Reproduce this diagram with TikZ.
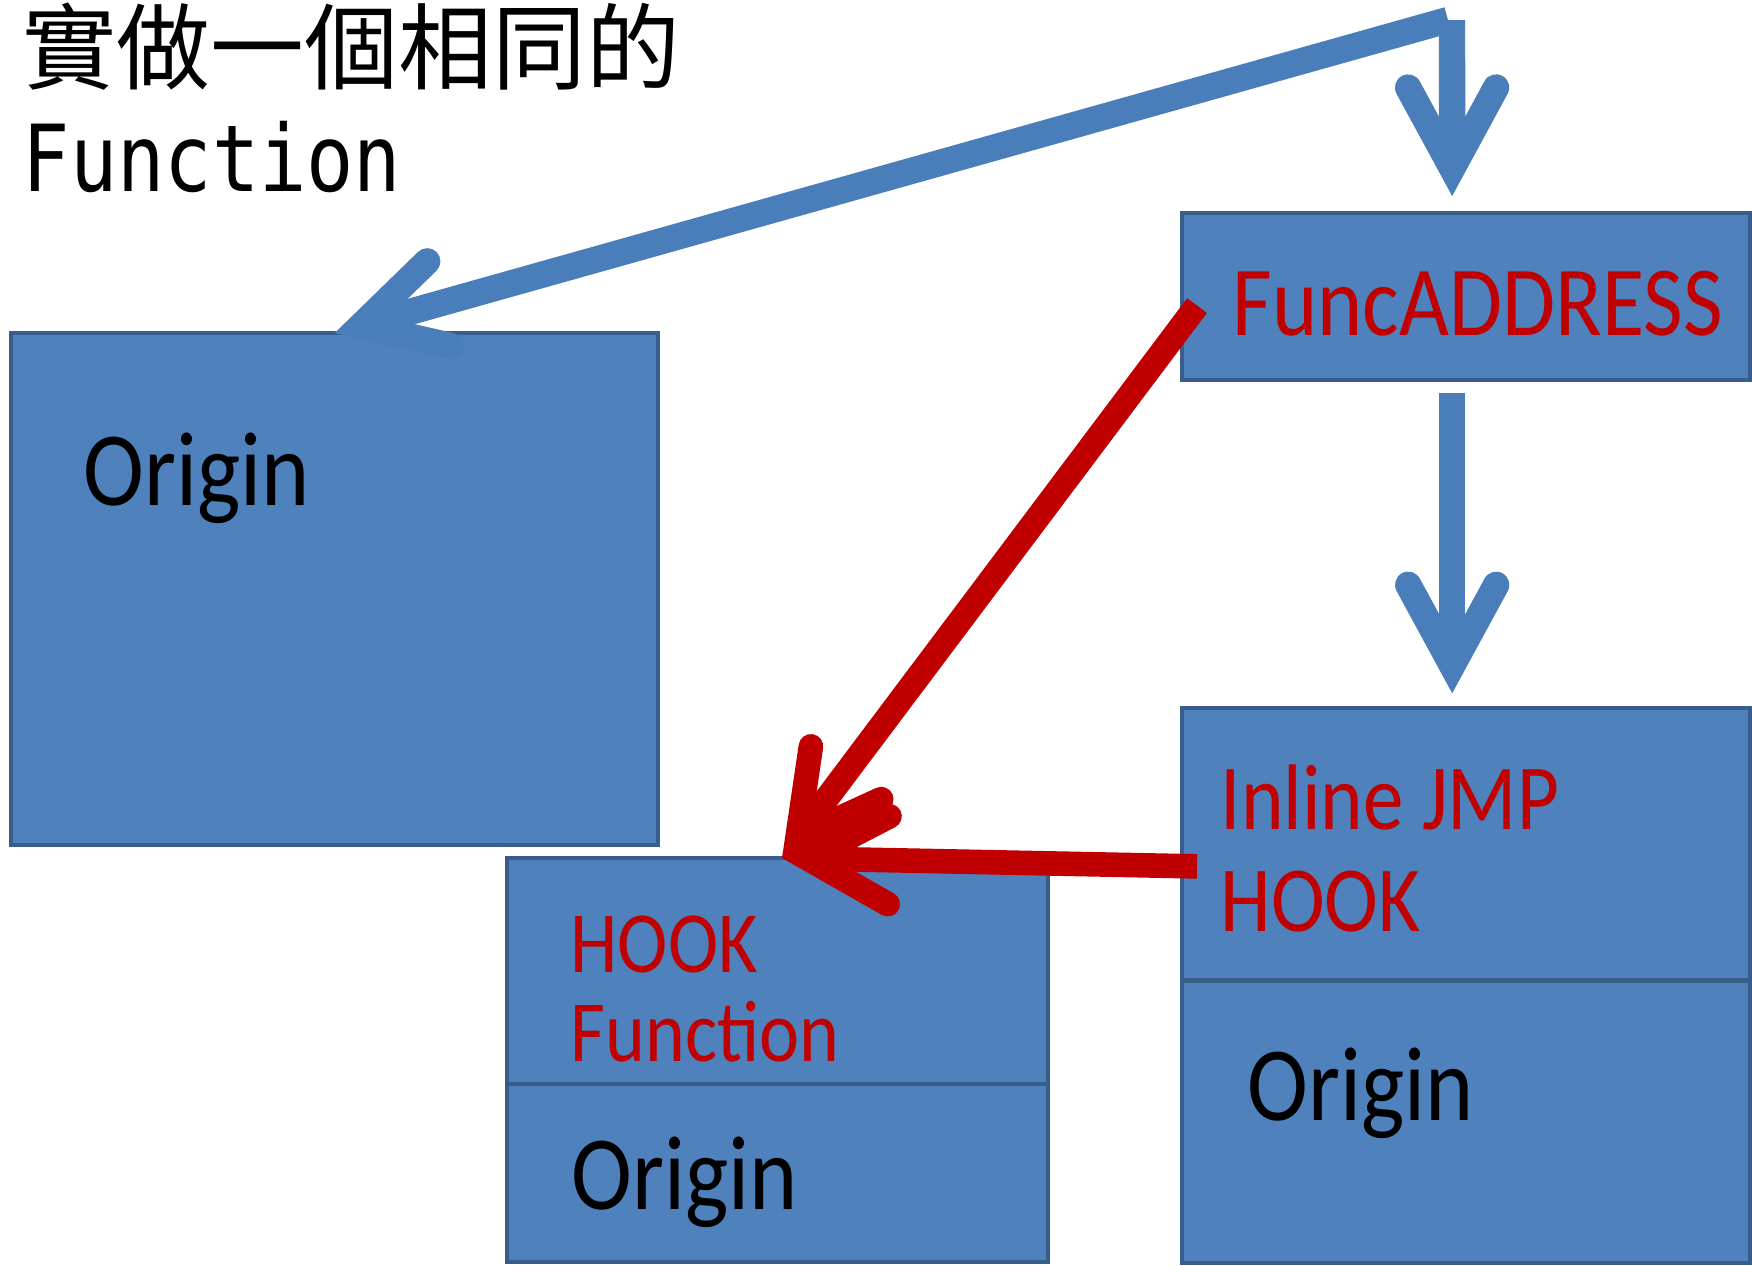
\documentclass[tikz,border=0pt]{standalone}
\usepackage{fontspec}
\newfontfamily\boxfont[FakeStretch=0.87]{Carlito}
\newfontfamily\cjkfont{Noto Sans CJK TC}
\newfontfamily\titlemono[FakeStretch=0.85]{DejaVu Sans Mono}
\definecolor{boxblue}{HTML}{4F81BD}
\definecolor{boxedge}{HTML}{385D8A}
\definecolor{linkblue}{HTML}{4A7EBB}
\definecolor{hookred}{HTML}{C00000}
\usetikzlibrary{
  arrows.meta,
  positioning
}
\tikzset{
  membox/.style={draw=boxedge, fill=boxblue, line width=1.2pt,
    inner sep=0pt, outer sep=0pt},
  boxtxt/.style={inner sep=0pt, anchor=base west, align=left},
  origtxt/.style={boxtxt, font=\boxfont\fontsize{30}{32}\selectfont},
  arr/.style={line width=7pt,
    -{Straight Barb[length=23pt, width=25pt, line cap=round, line join=miter]}},
  bluearr/.style={arr, line width=7.5pt, draw=linkblue},
  redarr/.style={arr, draw=hookred},
}

\begin{document}
\begin{tikzpicture}[x=0.01cm, y=-0.01cm]
  \useasboundingbox (0,0) rectangle (1752,1265);

  % Title
  \node[inner sep=0pt, anchor=base west, font=\cjkfont\fontsize{26.7}{30}\selectfont]
    (title) at (22,82) {實做一個相同的};
  \node[inner sep=0pt, anchor=base west, font=\titlemono\fontsize{26.3}{30}\selectfont]
    (titlefn) at (22,191) {Function};

  % Memory blocks
  \node[membox, anchor=north west, minimum width=6.47cm, minimum height=5.12cm]
    (origleft) at (11,333) {};
  \node[membox, anchor=north west, minimum width=5.68cm, minimum height=1.67cm]
    (funcaddr) at (1182,213) {};
  \node[membox, minimum width=5.68cm, minimum height=2.72cm,
        below=3.28cm of funcaddr] (jmphook) {};
  \node[membox, minimum width=5.68cm, minimum height=2.82cm,
        below=0pt of jmphook] (jmporig) {};
  \node[membox, anchor=north west, minimum width=5.41cm, minimum height=2.26cm]
    (hookfn) at (507,858) {};
  \node[membox, minimum width=5.41cm, minimum height=1.78cm,
        below=0pt of hookfn] (hookorig) {};

  % Block labels (base of a two-line label is its last line)
  \node[origtxt] (origleft-t) at ([shift={(72,172)}]origleft.north west) {Origin};
  \node[boxtxt, text=hookred, font=\boxfont\fontsize{28.2}{32}\selectfont]
    (funcaddr-t) at ([shift={(50,122)}]funcaddr.north west) {FuncADDRESS};
  \node[boxtxt, text=hookred, font=\boxfont\fontsize{26.5}{29}\selectfont]
    (jmphook-t) at ([shift={(38,223)}]jmphook.north west) {Inline JMP\\HOOK};
  \node[origtxt] (jmporig-t) at ([shift={(65,140)}]jmporig.north west) {Origin};
  \node[boxtxt, text=hookred, font=\boxfont\fontsize{24.8}{25.3}\selectfont]
    (hookfn-t) at ([shift={(63,203)}]hookfn.north west) {HOOK\\Function};
  \node[origtxt] (hookorig-t) at ([shift={(64,125)}]hookorig.north west) {Origin};

  % Arrows
  \coordinate (fork) at (1448,20);
  \coordinate (hooktip) at ([shift={(275,0)}]hookfn.north west);
  \draw[bluearr] (fork) -- (origleft.north);
  \draw[bluearr] ([shift={(4,0)}]fork) -- ([shift={(-14,-17)}]funcaddr.north);
  \draw[bluearr] ([shift={(-14,13)}]funcaddr.south) -- ([shift={(-14,-15)}]jmphook.north);
  \draw[redarr] ([shift={(15,9)}]funcaddr.west) -- (hooktip);
  \draw[redarr] ([shift={(15,22)}]jmphook.west) -- (hooktip);
\end{tikzpicture}
\end{document}
